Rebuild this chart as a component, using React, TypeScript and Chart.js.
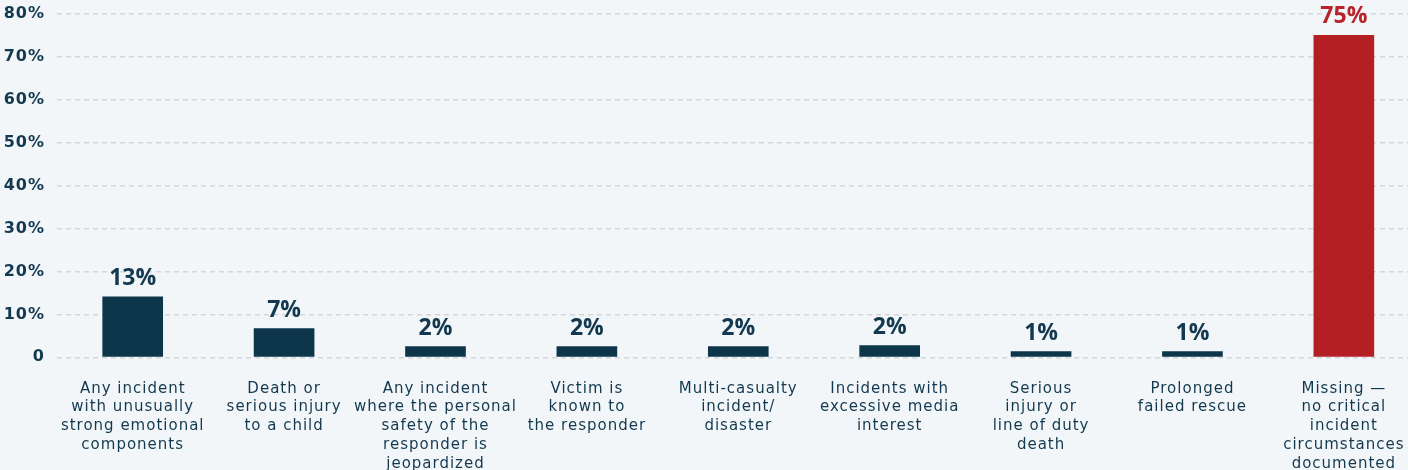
import React, { useEffect, useRef } from 'react';
import { Chart, registerables } from 'chart.js';

Chart.register(...registerables);

const categories: string[][] = [
  ['Any incident', 'with unusually', 'strong emotional', 'components'],
  ['Death or', 'serious injury', 'to a child'],
  ['Any incident', 'where the personal', 'safety of the', 'responder is', 'jeopardized'],
  ['Victim is', 'known to', 'the responder'],
  ['Multi-casualty', 'incident/', 'disaster'],
  ['Incidents with', 'excessive media', 'interest'],
  ['Serious', 'injury or', 'line of duty', 'death'],
  ['Prolonged', 'failed rescue'],
  ['Missing —', 'no critical', 'incident', 'circumstances', 'documented'],
];

const values: number[] = [14.1, 6.7, 2.5, 2.5, 2.5, 2.7, 1.3, 1.3, 75];
const valueLabels: string[] = ['13%', '7%', '2%', '2%', '2%', '2%', '1%', '1%', '75%'];

const NAVY = '#0d364b';
const RED = '#b41f24';
const TEXT = '#12394f';
const BG = '#f3f6f9';

const barColors: string[] = [NAVY, NAVY, NAVY, NAVY, NAVY, NAVY, NAVY, NAVY, RED];
const labelColors: string[] = [TEXT, TEXT, TEXT, TEXT, TEXT, TEXT, TEXT, TEXT, '#b8222a'];

const spacingPlugin = {
  id: 'letterSpacing',
  beforeDraw(chart: any) {
    chart.ctx.letterSpacing = '1px';
  },
  beforeDatasetsDraw(chart: any) {
    chart.ctx.letterSpacing = '0px';
  },
};

const valueLabelPlugin = {
  id: 'valueLabels',
  afterDatasetsDraw(chart: any) {
    const ctx = chart.ctx;
    const meta = chart.getDatasetMeta(0);
    ctx.save();
    ctx.letterSpacing = '0px';
    ctx.font = 'bold 23px "Open Sans"';
    ctx.textAlign = 'center';
    ctx.textBaseline = 'alphabetic';
    meta.data.forEach((bar: any, i: number) => {
      ctx.fillStyle = labelColors[i];
      ctx.fillText(valueLabels[i], bar.x, bar.y - 12);
    });
    ctx.restore();
  },
};

export default function App() {
  const ref = useRef<HTMLCanvasElement>(null);

  useEffect(() => {
    document.body.style.margin = '0';
    document.body.style.background = BG;
    const canvas = ref.current;
    if (!canvas) return;
    const chart = new Chart(canvas, {
      type: 'bar',
      data: {
        labels: categories,
        datasets: [
          {
            data: values,
            backgroundColor: barColors,
            borderWidth: 0,
            barThickness: 60,
          },
        ],
      },
      options: {
        responsive: false,
        maintainAspectRatio: false,
        animation: false,
        devicePixelRatio: 1,
        layout: { padding: { top: 14, right: 0, bottom: 0, left: 0 } },
        plugins: {
          legend: { display: false },
          tooltip: { enabled: false },
          title: { display: false },
        },
        scales: {
          x: {
            grid: { display: false, drawTicks: false },
            border: { display: false },
            ticks: {
              autoSkip: false,
              maxRotation: 0,
              minRotation: 0,
              padding: 22,
              color: TEXT,
              font: { family: 'DejaVu Sans', size: 15, weight: 'normal', lineHeight: 1.25 },
            },
          },
          y: {
            min: 0,
            max: 80,
            grid: {
              color: '#d3d7db',
              lineWidth: 1.5,
              drawTicks: true,
              tickLength: 8,
              tickColor: 'rgba(0,0,0,0)',
            },
            border: { display: false, dash: [5, 4] },
            afterFit: (axis: any) => {
              axis.width = 57;
            },
            ticks: {
              stepSize: 10,
              padding: 4,
              color: TEXT,
              font: { family: 'DejaVu Sans', size: 16, weight: 'bold' },
              callback: (v: any) => (Number(v) === 0 ? '0' : `${v}%`),
            },
          },
        },
      },
      plugins: [spacingPlugin, valueLabelPlugin],
    });
    return () => chart.destroy();
  }, []);

  return (
    <div style={{ width: 1408, height: 470, overflow: 'hidden', background: BG }}>
      <canvas ref={ref} width={1420} height={495} style={{ display: 'block' }} />
    </div>
  );
}
